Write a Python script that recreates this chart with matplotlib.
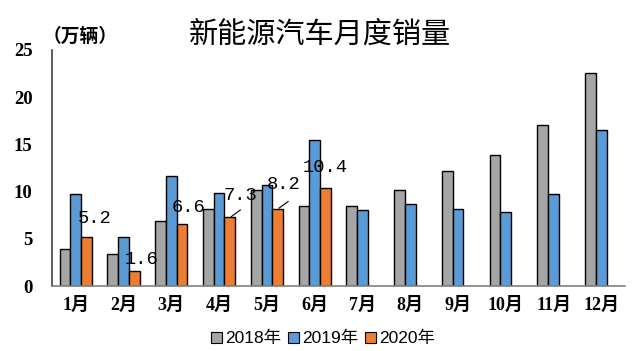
import numpy as np
import matplotlib
matplotlib.use("Agg")
import matplotlib.pyplot as plt
from matplotlib.patches import Patch

plt.rcParams['font.family'] = ['Liberation Serif', 'Noto Sans CJK SC']

# data (万辆)
months = ['1月', '2月', '3月', '4月', '5月', '6月', '7月', '8月', '9月', '10月', '11月', '12月']
sales_2018 = [3.9, 3.4, 6.9, 8.2, 10.2, 8.5, 8.5, 10.2, 12.2, 13.9, 17.0, 22.6]
sales_2019 = [9.7, 5.2, 11.6, 9.9, 10.7, 15.5, 8.1, 8.7, 8.2, 7.8, 9.7, 16.5]
sales_2020 = [5.2, 1.6, 6.6, 7.3, 8.2, 10.4]
years = ['2018年', '2019年', '2020年']
colors = ['#A5A5A5', '#5B9BD5', '#ED7D31']

fig = plt.figure(figsize=(6.4, 3.51), dpi=100)
ax = fig.add_axes([0.081, 0.185, 0.896, 0.673])

x = np.arange(len(months))
w = 0.225
ax.bar(x - w, sales_2018, w, color=colors[0], edgecolor='black', linewidth=1.0)
ax.bar(x, sales_2019, w, color=colors[1], edgecolor='black', linewidth=1.0)
x20 = np.arange(len(sales_2020))
ax.bar(x20 + w, sales_2020, w, color=colors[2], edgecolor='black', linewidth=1.0)

# value labels for 2020 (offsets are layout only)
label_dx = [0.40, 0.385, 0.35, 0.44, 0.36, 0.22]
label_dy = [2.0, 1.25, 1.7, 2.3, 2.5, 2.1]
for i, v in enumerate(sales_2020):
    tx, ty = i + label_dx[i], v + label_dy[i]
    ax.text(tx, ty, f'{v:.1f}', ha='center', va='center',
            family='Liberation Mono', fontsize=13.5, color='black')
    if i in (3, 4):
        ax.plot([i + w + 0.03, i + w + 0.22], [v + 0.05, v + 0.75],
                color='black', lw=0.8)

ax.set_xlim(-0.5, len(months) - 0.5)
ax.set_ylim(0, 25)
ax.set_yticks([0, 5, 10, 15, 20, 25])
ax.set_xticks(x)
ax.set_xticklabels(months, fontsize=13, fontweight='bold')
ax.tick_params(axis='y', length=0, pad=14, labelsize=13.5)
ax.tick_params(axis='x', length=0, pad=8)
for lab in ax.get_yticklabels():
    lab.set_fontweight('bold')

for s in ['top', 'right']:
    ax.spines[s].set_visible(False)
ax.spines['left'].set_color('#404040')
ax.spines['left'].set_linewidth(1.2)
ax.spines['bottom'].set_color('#808080')
ax.spines['bottom'].set_linewidth(1.2)

fig.text(0.5, 0.9, '新能源汽车月度销量', ha='center', va='center',
         family='Noto Sans CJK SC', fontsize=21, fontweight='medium')
fig.text(0.066, 0.895, '（万辆）', ha='left', va='center',
         family='Noto Sans CJK SC', fontsize=13.5, fontweight='bold')

handles = [Patch(facecolor=c, edgecolor='black', linewidth=0.8) for c in colors]
fig.legend(handles, years, loc='center', bbox_to_anchor=(0.505, 0.035), ncol=3,
           frameon=False, handlelength=0.6, handleheight=0.6, handletextpad=0.2,
           columnspacing=0.4,
           prop={'family': ['Liberation Sans', 'Noto Sans CJK SC'], 'size': 12.5})

fig.savefig('out.png', dpi=100)
